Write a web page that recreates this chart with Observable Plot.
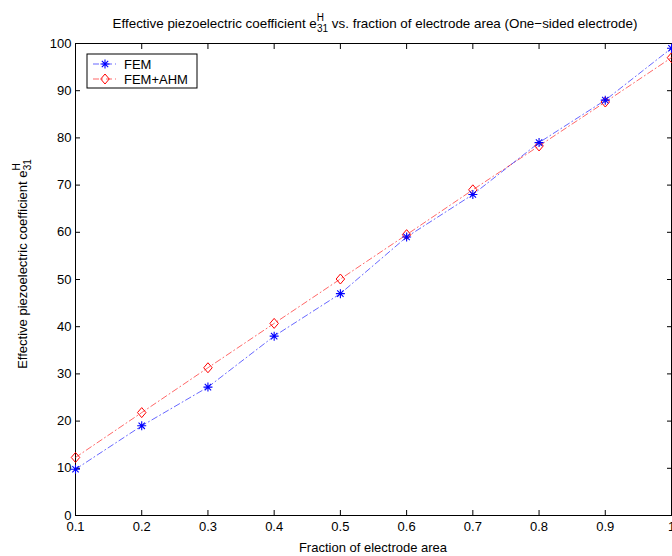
<!DOCTYPE html>
<html><head><meta charset="utf-8">
<script src="https://cdn.jsdelivr.net/npm/d3@7"></script>
<script src="https://cdn.jsdelivr.net/npm/@observablehq/plot@0.6"></script>
<style>body{margin:0;background:#fff;} svg{display:block;}</style>
</head><body><div id="chart"></div>
<script>
const fraction = [0.1,0.2,0.3,0.4,0.5,0.6,0.7,0.8,0.9,1.0];
const femValues = [9.8,19.0,27.2,38.0,47.0,59.0,68.0,79.0,88.0,99.0];
const femAhmValues = [12.3,21.8,31.3,40.7,50.1,59.5,69.0,78.3,87.6,97.0];
const xTicks = [0.1,0.2,0.3,0.4,0.5,0.6,0.7,0.8,0.9,1];
const yTicks = [0,10,20,30,40,50,60,70,80,90,100];
const seriesNames = ["FEM","FEM+AHM"];

const fem = fraction.map((x,i)=>({x, y: femValues[i]}));
const ahm = fraction.map((x,i)=>({x, y: femAhmValues[i]}));
const font = "Liberation Sans, Arial, Helvetica, sans-serif";
const fmt = d => d === 1 ? "1" : d.toFixed(1);
const FS = 13;

// MATLAB-style asterisk: plus + cross
const star = {
  draw(context, size) {
    const r = Math.sqrt(size / Math.PI);
    const d = r * Math.SQRT1_2;
    context.moveTo(-r, 0); context.lineTo(r, 0);
    context.moveTo(0, -r); context.lineTo(0, r);
    context.moveTo(-d, -d); context.lineTo(d, d);
    context.moveTo(-d, d); context.lineTo(d, -d);
  }
};
const diamond = {
  draw(context, size) {
    const r = Math.sqrt(size / Math.PI);
    const w = r * 0.85;
    context.moveTo(0, -r); context.lineTo(w, 0); context.lineTo(0, r); context.lineTo(-w, 0); context.closePath();
  }
};

const plot = Plot.plot({
  width: 672, height: 556,
  marginLeft: 75, marginRight: 1, marginTop: 43, marginBottom: 41,
  style: {fontFamily: font, fontSize: FS + "px", background: "#fff", overflow: "visible"},
  x: {domain: [0.1, 1], ticks: xTicks},
  y: {domain: [0, 100], ticks: yTicks},
  marks: [
    Plot.axisX({anchor: "bottom", ticks: xTicks, tickFormat: fmt, tickSize: 0, tickPadding: 6, label: null, fontSize: FS}),
    Plot.axisX({anchor: "bottom", ticks: xTicks, tickSize: -5, text: null, label: null}),
    Plot.axisX({anchor: "top", ticks: xTicks, tickSize: -5, text: null, label: null}),
    Plot.axisY({anchor: "left", ticks: yTicks, tickSize: 0, tickPadding: 4, label: null, fontSize: FS}),
    Plot.axisY({anchor: "left", ticks: yTicks, tickSize: -5, text: null, label: null}),
    Plot.axisY({anchor: "right", ticks: yTicks, tickSize: -5, text: null, label: null}),
    Plot.frame({stroke: "#000", strokeWidth: 1}),
    Plot.line(ahm, {x: "x", y: "y", stroke: "#ff0000", strokeWidth: 0.6, strokeDasharray: "6,3,1,3"}),
    Plot.line(fem, {x: "x", y: "y", stroke: "#0000ff", strokeWidth: 0.6, strokeDasharray: "6,3,1,3"}),
    Plot.dot(ahm, {x: "x", y: "y", symbol: diamond, r: 5, stroke: "#ff0000", strokeWidth: 1, fill: "none"}),
    Plot.dot(fem, {x: "x", y: "y", symbol: star, r: 4.5, stroke: "#0000ff", strokeWidth: 1.1})
  ]
});
document.getElementById("chart").appendChild(plot);

const svg = d3.select(plot);
// Title
const title = svg.append("text").attr("x", 375).attr("y", 28).attr("text-anchor", "middle")
  .attr("font-family", font).attr("font-size", 13.4).attr("fill", "#000");
title.append("tspan").text("Effective piezoelectric coefficient e");
title.append("tspan").attr("dy", -7).attr("font-size", 10).text("H");
title.append("tspan").attr("dx", -7).attr("dy", 11).attr("font-size", 10).text("31");
title.append("tspan").attr("dy", -4).text(" vs. fraction of electrode area (One\u2212sided electrode)");
// X label
svg.append("text").attr("x", 373).attr("y", 552).attr("text-anchor", "middle")
  .attr("font-family", font).attr("font-size", FS).text("Fraction of electrode area");
// Y label
const yl = svg.append("text").attr("transform", "translate(27,264) rotate(-90)").attr("text-anchor", "middle")
  .attr("font-family", font).attr("font-size", FS);
yl.append("tspan").text("Effective piezoelectric coefficient e");
yl.append("tspan").attr("dy", -7).attr("font-size", 10).text("H");
yl.append("tspan").attr("dx", -7).attr("dy", 11).attr("font-size", 10).text("31");
// Legend
const lg = svg.append("g");
lg.append("rect").attr("x", 87).attr("y", 54).attr("width", 110).attr("height", 34)
  .attr("fill", "#fff").attr("stroke", "#000").attr("stroke-width", 1);
const colors = ["#0000ff", "#ff0000"];
seriesNames.forEach((name, i) => {
  const cy = 64 + i * 15;
  lg.append("line").attr("x1", 93).attr("x2", 117).attr("y1", cy).attr("y2", cy)
    .attr("stroke", colors[i]).attr("stroke-width", 0.6).attr("stroke-dasharray", "6,3,1,3");
  const sym = i === 0 ? star : diamond;
  const r = i === 0 ? 4.5 : 5;
  lg.append("path").attr("transform", `translate(105,${cy})`).attr("d", d3.symbol(sym, r * r * Math.PI)())
    .attr("fill", "none").attr("stroke", colors[i]).attr("stroke-width", i === 0 ? 1.1 : 1);
  lg.append("text").attr("x", 124).attr("y", cy + 4.5).attr("text-anchor", "start")
    .attr("font-family", font).attr("font-size", FS).text(name);
});
</script></body></html>
